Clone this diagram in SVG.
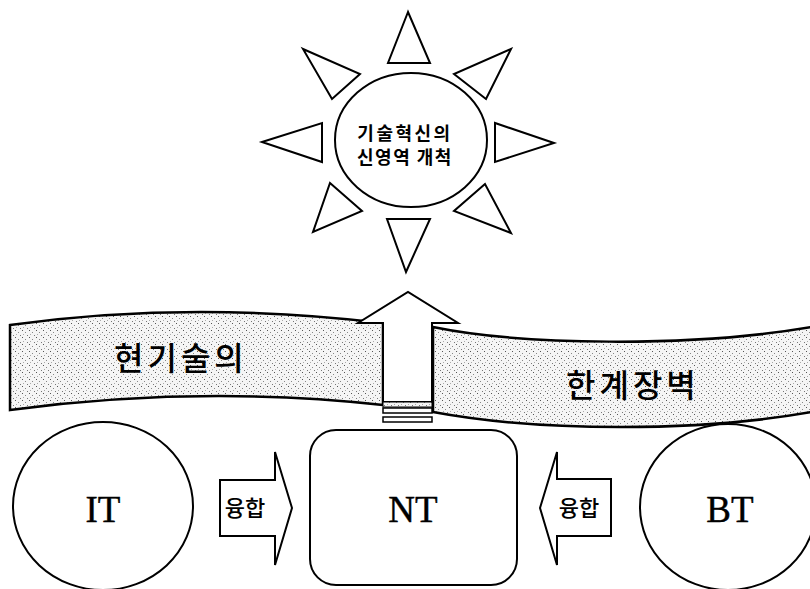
<svg xmlns="http://www.w3.org/2000/svg" width="810" height="589" viewBox="0 0 810 589">
<defs>
<pattern id="stip" width="7" height="7" patternUnits="userSpaceOnUse">
<rect width="7" height="7" fill="#f5f5f5"/>
<rect x="1" y="1" width="1" height="1" fill="#555"/>
<rect x="4" y="3" width="1" height="1" fill="#888"/>
<rect x="2" y="5" width="1" height="1" fill="#aaa"/>
<rect x="6" y="6" width="1" height="1" fill="#777"/>
</pattern>
</defs>
<style>
.ln{fill:#fff;stroke:#000;stroke-width:2;stroke-linejoin:miter}
.ban{fill:url(#stip);stroke:#000;stroke-width:2.5}
.kr{font-family:"Noto Sans CJK KR","Noto Sans",sans-serif;fill:#000}
.lat{font-family:"Liberation Serif",serif;fill:#000;text-anchor:middle;font-size:37px;stroke:#000;stroke-width:0.4}
</style>
<rect width="810" height="589" fill="#fff"/>
<g id="sun">
<ellipse class="ln" cx="411" cy="140" rx="76" ry="67"/>
<polygon class="ln" points="408,12 388,63 430,63"/>
<polygon class="ln" points="387,219 430,219 406,272"/>
<polygon class="ln" points="262,142 322,123 322,162"/>
<polygon class="ln" points="554,143 495,123 495,162"/>
<polygon class="ln" points="303,49 360,74 332,99"/>
<polygon class="ln" points="511,49 454,74 486,99"/>
<polygon class="ln" points="330,183 362,211 313,232"/>
<polygon class="ln" points="485,184 454,211 511,233"/>
<text class="kr" x="405" y="140" font-size="18" font-weight="bold" text-anchor="middle" letter-spacing="2.5">기술혁신의</text>
<text class="kr" x="405" y="164" font-size="18" font-weight="bold" text-anchor="middle" letter-spacing="1.5">신영역 개척</text>
</g>
<g id="banner-left">
<path class="ban" d="M10,325 Q190,300 383,323 L383,405 Q200,385 10,410 Z"/>
<text class="kr" x="114" y="370" font-size="32" font-weight="500" letter-spacing="4">현기술의</text>
</g>
<g id="banner-right">
<path class="ban" d="M433,327 C520,345 690,348 812,327 L812,412 C700,432 540,432 433,412 Z"/>
<text class="kr" x="566" y="397" font-size="32" font-weight="500" letter-spacing="4">한계장벽</text>
</g>
<g id="up-arrow">
<path class="ln" d="M383,402 V323 H358 L408,292 L458,323 H432 V402 Z"/>
<rect x="383" y="402" width="49" height="5" fill="url(#stip)" stroke="#000" stroke-width="1"/>
<rect x="383" y="408" width="49" height="5" fill="#fff" stroke="#000" stroke-width="1.5"/>
<rect x="383" y="417" width="49" height="5" fill="#fff" stroke="#000" stroke-width="1.5"/>
</g>
<g id="IT">
<ellipse class="ln" cx="103" cy="506" rx="90" ry="84"/>
<text class="lat" x="103" y="522">IT</text>
</g>
<g id="NT">
<rect class="ln" x="310" y="430" width="207" height="155" rx="26"/>
<text class="lat" x="413" y="522">NT</text>
</g>
<g id="BT">
<ellipse class="ln" cx="728" cy="507" rx="88" ry="83"/>
<text class="lat" x="730" y="522">BT</text>
</g>
<g id="connectors">
<path class="ln" d="M220,480 H275 V452 L292,508 L275,565 V536 H220 Z"/>
<text class="kr" x="245" y="516" font-size="22" font-weight="500" text-anchor="middle">융합</text>
<path class="ln" d="M611,479 H557 V452 L540,508 L557,565 V536 H611 Z"/>
<text class="kr" x="579" y="516" font-size="22" font-weight="500" text-anchor="middle">융합</text>
</g>
</svg>
